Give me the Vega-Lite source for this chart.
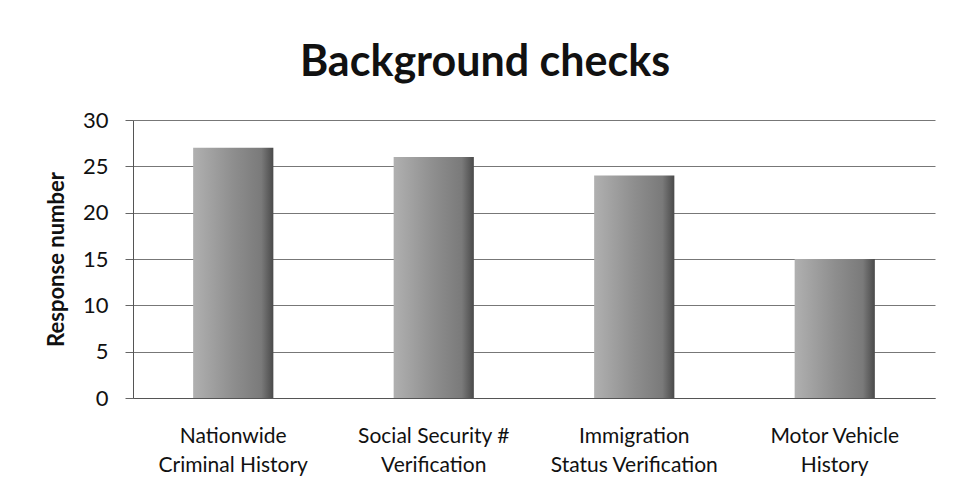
{
  "$schema": "https://vega.github.io/schema/vega-lite/v6.json",
  "autosize": "none",
  "width": 802,
  "height": 278,
  "padding": {"left": 133, "top": 120, "right": 18, "bottom": 94},
  "background": "white",
  "title": {
    "text": "Background checks",
    "font": "Lato",
    "fontSize": 43,
    "fontWeight": "bold",
    "color": "#111111",
    "anchor": "middle",
    "dx": -49,
    "offset": 24
  },
  "data": {
    "values": [
      {"check": "Nationwide|Criminal History", "responses": 27},
      {"check": "Social Security #|Verification", "responses": 26},
      {"check": "Immigration|Status Verification", "responses": 24},
      {"check": "Motor Vehicle|History", "responses": 15}
    ]
  },
  "mark": {
    "type": "bar",
    "color": {
      "gradient": "linear",
      "x1": 0, "x2": 1, "y1": 0, "y2": 0,
      "stops": [
        {"offset": 0, "color": "#b0b0b0"},
        {"offset": 0.5, "color": "#8e8e8e"},
        {"offset": 0.85, "color": "#7a7a7a"},
        {"offset": 1, "color": "#4a4a4a"}
      ]
    }
  },
  "encoding": {
    "x": {
      "field": "check",
      "type": "nominal",
      "sort": null,
      "scale": {"paddingInner": 0.6, "paddingOuter": 0.3},
      "axis": {
        "title": null,
        "labelAngle": 0,
        "labelExpr": "split(datum.value, '|')",
        "labelFont": "Lato",
        "labelFontSize": 21,
        "labelLineHeight": 29,
        "labelColor": "#111111",
        "labelPadding": 27,
        "ticks": false,
        "domainColor": "#555555",
        "labelLimit": 300
      }
    },
    "y": {
      "field": "responses",
      "type": "quantitative",
      "scale": {"domain": [0, 30]},
      "axis": {
        "title": "Response number",
        "titleFont": "Lato",
        "titleFontSize": 22,
        "titleFontWeight": "bold",
        "titleColor": "#111111",
        "titlePadding": 14,
        "values": [0, 5, 10, 15, 20, 25, 30],
        "labelFont": "Lato",
        "labelFontSize": 22,
        "labelColor": "#111111",
        "labelPadding": 17,
        "tickSize": 8,
        "tickColor": "#666666",
        "domainColor": "#555555",
        "gridColor": "#777777",
        "gridOpacity": 1
      }
    }
  },
  "config": {"view": {"stroke": null}}
}
